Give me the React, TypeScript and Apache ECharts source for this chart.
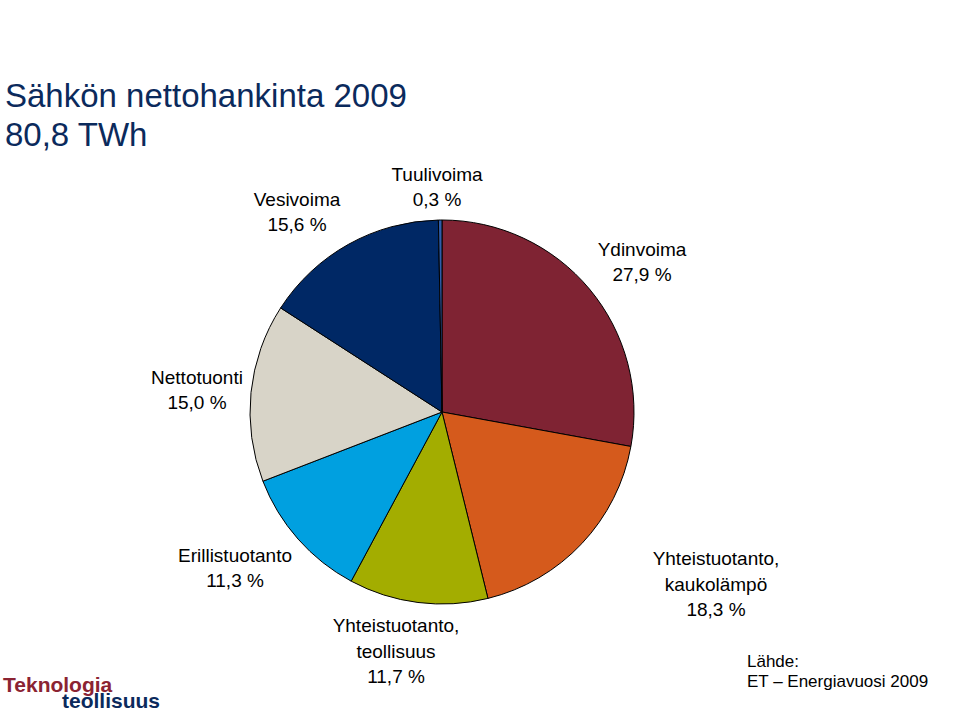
import React, { useEffect, useRef } from "react";
import * as echarts from "echarts";

const categories = [
  "Ydinvoima",
  "Yhteistuotanto,\nkaukolämpö",
  "Yhteistuotanto,\nteollisuus",
  "Erillistuotanto",
  "Nettotuonti",
  "Vesivoima",
  "Tuulivoima",
];
const values = [27.9, 18.3, 11.7, 11.3, 15.0, 15.6, 0.3];
const colors = ["#7F2333", "#D55A1C", "#A3AD00", "#00A0E0", "#D8D4C8", "#002865", "#2F5DAA"];
const labelPositions: [number, number][] = [
  [642, 262],
  [716, 584],
  [396, 651],
  [235, 568],
  [197, 390],
  [297, 212],
  [437, 187],
];

const FONT = "'Liberation Sans', Arial, Helvetica, sans-serif";

export default function App() {
  const ref = useRef<HTMLDivElement>(null);
  useEffect(() => {
    document.body.style.margin = "0";
    const chart = echarts.init(ref.current!, null, { renderer: "svg" });
    chart.setOption({
      animation: false,
      backgroundColor: "#ffffff",
      graphic: [
        {
          type: "text",
          left: 5,
          top: 76,
          style: {
            text: "Sähkön nettohankinta 2009\n80,8 TWh",
            font: `33px ${FONT}`,
            fill: "#0B2A5C",
            lineHeight: 39,
          },
        },
        {
          type: "text",
          left: 747,
          top: 651,
          style: {
            text: "Lähde:\nET – Energiavuosi 2009",
            font: `17px ${FONT}`,
            fill: "#000",
            lineHeight: 20,
          },
        },
        {
          type: "text",
          left: 3,
          top: 674,
          style: {
            text: "{a|Teknologia}\n{b|teollisuus}",
            rich: {
              a: { font: `bold 21px ${FONT}`, fill: "#8B2332", lineHeight: 16 },
              b: { font: `bold 21px ${FONT}`, fill: "#0B2A5C", lineHeight: 16, padding: [0, 0, 0, 59] },
            },
          },
        },
      ],
      series: [
        {
          type: "pie",
          center: [442, 412],
          radius: 192,
          startAngle: 90,
          clockwise: true,
          avoidLabelOverlap: false,
          itemStyle: { borderColor: "#000", borderWidth: 1 },
          label: {
            show: true,
            position: "outside",
            formatter: (p: any) => `${p.name}\n${p.value.toFixed(1).replace(".", ",")} %`,
            fontFamily: FONT,
            fontSize: 19,
            lineHeight: 25.5,
            color: "#000",
            align: "center",
          },
          labelLine: { show: false },
          labelLayout: (params: any) => {
            const pos = labelPositions[params.dataIndex];
            return { x: pos[0], y: pos[1], align: "center", verticalAlign: "middle" };
          },
          emphasis: { disabled: true },
          data: categories.map((c, i) => ({ name: c, value: values[i], itemStyle: { color: colors[i] } })),
        },
      ],
    });
    return () => chart.dispose();
  }, []);
  return <div ref={ref} style={{ width: 960, height: 715 }} />;
}
